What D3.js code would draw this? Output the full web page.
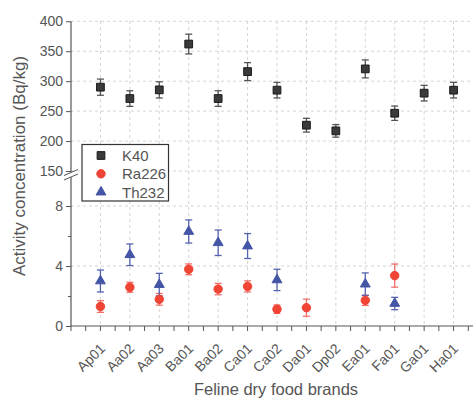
<!DOCTYPE html>
<html>
<head>
<meta charset="utf-8">
<script src="https://cdn.jsdelivr.net/npm/d3@7"></script>
<style>
  body { margin: 0; background: #fff; }
  text { font-family: "Liberation Sans", Arial, sans-serif; fill: #555; }
</style>
</head>
<body>
<svg id="chart" width="473" height="399"></svg>
<script>
// Brands on the x axis
const brands = ["Ap01", "Aa02", "Aa03", "Ba01", "Ba02", "Ca01", "Ca02", "Da01", "Dp02", "Ea01", "Fa01", "Ga01", "Ha01"];

// K40 (upper panel)
const k40 = [290, 271, 285.5, 362, 271, 316, 285, 226.5, 217, 320.5, 246.5, 280, 285];
const k40Err = [13.5, 13, 13.5, 16.5, 13, 15, 13, 11.5, 10.5, 15, 12, 13, 13];

// Ra226 (lower panel), null = not measured
const ra226 = [1.3, 2.58, 1.78, 3.78, 2.46, 2.64, 1.12, 1.22, null, 1.71, 3.36, null, null];
const ra226Err = [0.39, 0.33, 0.39, 0.36, 0.38, 0.37, 0.28, 0.57, null, 0.34, 0.77, null, null];

// Th232 (lower panel)
const th232 = [3.0, 4.75, 2.76, 6.3, 5.55, 5.33, 3.07, null, null, 2.79, 1.5, null, null];
const th232Err = [0.73, 0.72, 0.75, 0.77, 0.85, 0.83, 0.71, null, null, 0.75, 0.41, null, null];

const upperTicks = [150, 200, 250, 300, 350, 400];
const lowerTicks = [0, 4, 8];
const lowerMinor = [2, 6];

const svg = d3.select("#chart");

const x = d3.scalePoint().domain(brands).range([71, 483]).padding(1);
const step = x.step();
const yUp = d3.scaleLinear().domain([150, 400]).range([171, 21.3]);
const yLo = d3.scaleLinear().domain([0, 9.8]).range([326, 179]);

const axisColor = "#555";
const gridColor = "#d4d4d4";

// grid
const grid = svg.append("g");
brands.forEach(b => {
  grid.append("line")
    .attr("x1", x(b)).attr("x2", x(b))
    .attr("y1", 21).attr("y2", 326)
    .attr("stroke", gridColor).attr("stroke-dasharray", "3,3");
});
upperTicks.forEach(t => {
  grid.append("line")
    .attr("x1", 71).attr("x2", 483)
    .attr("y1", yUp(t)).attr("y2", yUp(t))
    .attr("stroke", gridColor).attr("stroke-dasharray", "3,3");
});
lowerTicks.filter(t => t > 0).forEach(t => {
  grid.append("line")
    .attr("x1", 71).attr("x2", 483)
    .attr("y1", yLo(t)).attr("y2", yLo(t))
    .attr("stroke", gridColor).attr("stroke-dasharray", "3,3");
});

// y axes
const upAxis = svg.append("g").attr("transform", "translate(71,0)")
  .call(d3.axisLeft(yUp).tickValues(upperTicks).tickSize(5).tickPadding(3));
const loAxis = svg.append("g").attr("transform", "translate(71,0)")
  .call(d3.axisLeft(yLo).tickValues(lowerTicks).tickSize(5).tickPadding(3));
svg.append("g").attr("transform", "translate(71,0)")
  .call(d3.axisLeft(yLo).tickValues(lowerMinor).tickSize(3).tickFormat(""));
[upAxis, loAxis].forEach(a => {
  a.selectAll("text").style("font-size", "14px").style("fill", "#555");
});
svg.selectAll(".tick line").attr("stroke", axisColor);
svg.selectAll(".domain").remove();
svg.append("line").attr("x1", 71).attr("x2", 71).attr("y1", yUp(400)).attr("y2", yUp(150) + 1)
  .attr("stroke", axisColor).attr("stroke-width", 1.2);
svg.append("line").attr("x1", 71).attr("x2", 71).attr("y1", 176).attr("y2", 326)
  .attr("stroke", axisColor).attr("stroke-width", 1.2);

// break marks
svg.append("polygon").attr("points", "64,176 78,170 78,174 64,180").attr("fill", "#fff");
svg.append("line").attr("x1", 64).attr("y1", 175.5).attr("x2", 78).attr("y2", 169.5).attr("stroke", axisColor);
svg.append("line").attr("x1", 64).attr("y1", 180).attr("x2", 78).attr("y2", 174).attr("stroke", axisColor);

// x axis
svg.append("line").attr("x1", 71).attr("x2", 483).attr("y1", 326).attr("y2", 326)
  .attr("stroke", axisColor).attr("stroke-width", 1.2);
const minorX = d3.range(0, brands.length + 1).map(i => x(brands[0]) - step + i * step);
minorX.concat(minorX.map(v => v + step / 2)).forEach(v => {
  svg.append("line").attr("x1", v).attr("x2", v).attr("y1", 326).attr("y2", 331)
    .attr("stroke", axisColor);
});
brands.forEach(b => {
  svg.append("text")
    .attr("transform", `translate(${x(b) + 2},${346}) rotate(-45)`)
    .attr("text-anchor", "end")
    .attr("dy", "0.35em")
    .style("font-size", "14px")
    .text(b);
});

// axis titles
svg.append("text")
  .attr("transform", "translate(25,166) rotate(-90)")
  .attr("text-anchor", "middle")
  .style("font-size", "17px")
  .text("Activity concentration (Bq/kg)");
svg.append("text")
  .attr("x", 276).attr("y", 395)
  .attr("text-anchor", "middle")
  .style("font-size", "16.5px")
  .text("Feline dry food brands");

// error bars
function errBars(vals, errs, y, color) {
  const g = svg.append("g").attr("stroke", color).attr("stroke-width", 1.3);
  vals.forEach((v, i) => {
    if (v === null) return;
    const cx = x(brands[i]);
    const y1 = y(v + errs[i]), y2 = y(v - errs[i]);
    g.append("line").attr("x1", cx).attr("x2", cx).attr("y1", y1).attr("y2", y2);
    g.append("line").attr("x1", cx - 3.5).attr("x2", cx + 3.5).attr("y1", y1).attr("y2", y1);
    g.append("line").attr("x1", cx - 3.5).attr("x2", cx + 3.5).attr("y1", y2).attr("y2", y2);
  });
}
errBars(k40, k40Err, yUp, "#555");
errBars(ra226, ra226Err, yLo, "#f07068");
errBars(th232, th232Err, yLo, "#5664b0");

const squareSym = d3.symbol().type(d3.symbolSquare).size(60);
const circleSym = d3.symbol().type(d3.symbolCircle).size(56);
const triSym = d3.symbol().type(d3.symbolTriangle).size(42);

function markers(vals, y, sym, fill, stroke) {
  vals.forEach((v, i) => {
    if (v === null) return;
    svg.append("path")
      .attr("d", sym)
      .attr("transform", `translate(${x(brands[i])},${y(v)})`)
      .attr("fill", fill).attr("stroke", stroke).attr("stroke-width", 1);
  });
}
markers(k40, yUp, squareSym, "#3a3a3a", "#1a1a1a");
markers(th232, yLo, triSym, "#4455a6", "#4455a6");
markers(ra226, yLo, circleSym, "#f04434", "#f04434");

// legend
const legendItems = [
  { name: "K40", sym: squareSym, fill: "#3a3a3a", stroke: "#1a1a1a" },
  { name: "Ra226", sym: circleSym, fill: "#f04434", stroke: "#f04434" },
  { name: "Th232", sym: triSym, fill: "#4455a6", stroke: "#4455a6" }
];
const legend = svg.append("g").attr("transform", "translate(82,144.5)");
legend.append("rect").attr("width", 86.5).attr("height", 56.5)
  .attr("fill", "#fff").attr("stroke", "#333").attr("stroke-width", 1.2);
legendItems.forEach((d, i) => {
  const gy = 11 + i * 18.3;
  legend.append("path").attr("d", d.sym)
    .attr("transform", `translate(19,${gy})`)
    .attr("fill", d.fill).attr("stroke", d.stroke);
  legend.append("text").attr("x", 40).attr("y", gy).attr("dy", "0.36em")
    .style("font-size", "15px").text(d.name);
});
</script>
</body>
</html>
